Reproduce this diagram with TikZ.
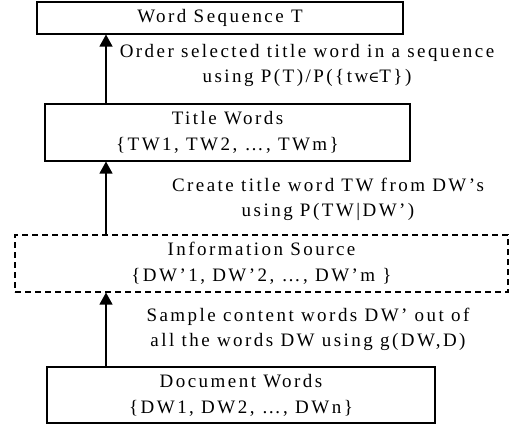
\documentclass[tikz,border=0pt]{standalone}
\usepackage{fontspec}
\setmainfont{Liberation Serif}
\newfontfamily\widefont[LetterSpace=13]{Liberation Serif}
\usepackage{tikz}
\usetikzlibrary{arrows.meta,positioning}
\tikzset{
  wbox/.style={
    draw=black, line width=1.1pt, align=center, inner sep=0pt,
    font=\fontsize{19}{26}\widefont
  },
  srcbox/.style={wbox, dashed, dash pattern=on 6pt off 4pt},
  arr/.style={-{Triangle[length=12pt,width=13pt]}, draw=black, line width=1.3pt},
  lbl/.style={align=center, font=\fontsize{19}{25}\widefont}
}
\begin{document}
\begin{tikzpicture}[x=1pt,y=-1pt]
  \useasboundingbox (0,0) rectangle (510,424);
  \node[wbox, minimum width=366pt, minimum height=32pt] (seq) at (220,18) {Word Sequence T};
  \node[wbox, minimum width=365pt, minimum height=57pt] (tw) at (227.5,132.5)
    {Title Words\\\{TW1, TW2, \dots, TWm\}};
  \node[srcbox, minimum width=493pt, minimum height=57pt] (src) at (261.5,263.5)
    {Information Source\\\{DW’1, DW’2, \dots, DW’m \}};
  \node[wbox, minimum width=388pt, minimum height=56pt] (dw) at (241,395)
    {Document Words\\\{DW1, DW2, \dots, DWn\}};
  \coordinate (ax) at (106,0);
  % arrows up the chain
  \draw[arr] (dw.north -| ax) -- (src.south -| ax);
  \draw[arr] (src.north -| ax) -- (tw.south -| ax);
  \draw[arr] (tw.north -| ax) -- (seq.south -| ax);
  % step labels
  \node[lbl] (l1) at (307,65) {Order selected title word in a sequence\\using P(T)/P(\{tw{\fontspec{DejaVu Serif}\fontsize{15}{25}\selectfont∈}T\})};
  \node[lbl] (l2) at (328,199) {Create title word TW from DW’s\\using P(TW|DW’)};
  \node[lbl] (l3) at (308,329) {Sample content words DW’ out of\\all the words DW using g(DW,D)};
\end{tikzpicture}
\end{document}
